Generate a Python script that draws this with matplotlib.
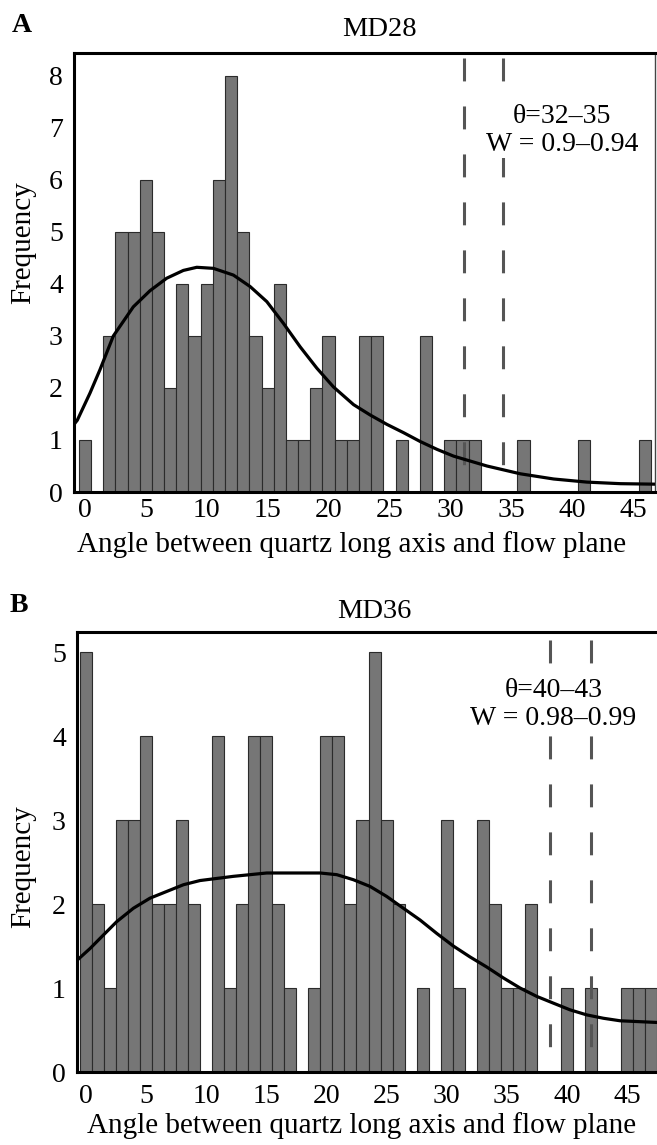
import numpy as np
import matplotlib.pyplot as plt

plt.rcParams['font.family'] = ['Liberation Serif', 'DejaVu Serif']

# histogram counts, one bar per degree (bins 0..46 / 0..47)
md28_counts = [1, 0, 3, 5, 5, 6, 5, 2, 4, 3, 4, 6, 8, 5, 3, 2, 4, 1, 1, 2,
               3, 1, 1, 3, 3, 0, 1, 0, 3, 0, 1, 1, 1, 0, 0, 0, 1, 0, 0, 0,
               0, 1, 0, 0, 0, 0, 1]
md36_counts = [5, 2, 1, 3, 3, 4, 2, 2, 3, 2, 0, 4, 1, 2, 4, 4, 2, 1, 0, 1,
               4, 4, 2, 3, 5, 3, 2, 0, 1, 0, 3, 1, 0, 3, 2, 1, 1, 2, 0, 0,
               1, 0, 1, 0, 0, 1, 1, 1]

# fitted density curves
md28_curve_x = [-0.9, -0.63, 0.41, 1.23, 2.33, 3.97, 5.34, 6.71, 8.08, 9.18,
                10.54, 12.19, 13.56, 14.93, 16.3, 17.67, 19.04, 20.4, 22.05,
                23.42, 24.79, 26.16, 27.53, 28.9, 30.26, 33.0, 35.74, 38.48,
                41.22, 43.96, 46.97]
md28_curve_y = [1.3, 1.38, 1.9, 2.35, 3.0, 3.56, 3.87, 4.11, 4.26, 4.32,
                4.30, 4.17, 3.95, 3.66, 3.24, 2.79, 2.38, 2.02, 1.68,
                1.48, 1.30, 1.14, 0.97, 0.82, 0.69, 0.50, 0.35, 0.25,
                0.19, 0.16, 0.15]
md36_curve_x = [-0.75, 0.33, 1.16, 2.55, 3.94, 5.32, 6.71, 8.1, 9.48, 12.25,
                15.03, 17.8, 19.47, 20.86, 22.24, 23.63, 25.02, 26.4, 27.79,
                29.18, 30.56, 31.95, 33.34, 34.72, 36.11, 37.5, 38.88, 40.27,
                41.66, 43.04, 44.43, 47.5]
md36_curve_y = [1.33, 1.47, 1.59, 1.79, 1.95, 2.07, 2.15, 2.23, 2.28, 2.33,
                2.37, 2.37, 2.37, 2.35, 2.29, 2.21, 2.09, 1.95, 1.81,
                1.65, 1.50, 1.37, 1.25, 1.12, 1.00, 0.90, 0.82, 0.74,
                0.68, 0.64, 0.61, 0.59]

md28_theta = [31.1, 34.3]
md36_theta = [38.6, 42.0]
md28_note = 'θ=32–35\nW = 0.9–0.94'
md36_note = 'θ=40–43\nW = 0.98–0.99'
x_ticks = [0, 5, 10, 15, 20, 25, 30, 35, 40, 45]
xlabel = 'Angle between quartz long axis and flow plane'

W, H = 657, 1145


def px_rect(left, top, right, bottom):
    return [left / W, 1 - bottom / H, (right - left) / W, (bottom - top) / H]


def plot_panel(fig, rect, counts, curve_x, curve_y, theta, note, note_xy,
               xlim, ylim, dash_span, xpad, xlab_coords, right_spine=True):
    ax = fig.add_axes(rect)
    bins = np.arange(len(counts))
    ax.bar(bins, counts, width=1.0, color='#767676', edgecolor='#2b2b2b',
           linewidth=0.8, zorder=2)

    for x in theta:
        ax.plot([x, x], dash_span, color='#555555', lw=2.2,
                dashes=(7.5, 8.2), zorder=3)

    ax.plot(curve_x, curve_y, color='black', lw=2.3, zorder=4)

    ax.text(note_xy[0], note_xy[1], note, ha='center', va='center',
            fontsize=20, linespacing=1.15, zorder=5,
            bbox=dict(facecolor='white', edgecolor='none', pad=1))

    ax.set_xlim(*xlim)
    ax.set_ylim(*ylim)
    ax.set_xticks(x_ticks)
    ax.set_yticks(range(int(ylim[1]) + 1))
    ax.tick_params(length=0, labelsize=20)
    ax.tick_params(axis='y', pad=8)
    ax.tick_params(axis='x', pad=xpad)

    for side in ['left', 'top', 'bottom']:
        ax.spines[side].set_linewidth(2.2)
        ax.spines[side].set_color('black')
    if right_spine:
        ax.spines['right'].set_linewidth(1.0)
        ax.spines['right'].set_color('#444444')
    else:
        ax.spines['right'].set_visible(False)

    ax.set_xlabel(xlabel, fontsize=21)
    ax.xaxis.set_label_coords(*xlab_coords)
    return ax


fig = plt.figure(figsize=(W / 100, H / 100), dpi=100)

plot_panel(fig, px_rect(74, 53, 655, 492), md28_counts, md28_curve_x, md28_curve_y,
           md28_theta, md28_note, (39.2, 6.95),
           (-0.9, 46.8), (0, 8.44), [8.35, 0.38], 4.5, (0.478, -0.09))

plot_panel(fig, px_rect(77, 632, 657, 1072), md36_counts, md36_curve_x, md36_curve_y,
           md36_theta, md36_note, (38.9, 4.38),
           (-0.75, 47.5), (0, 5.24), [5.14, 0.24], 8.5, (0.49, -0.09),
           right_spine=False)

fig.text(23 / W, 1 - 243 / H, 'Frequency', fontsize=21, rotation=90,
         ha='center', va='center')
fig.text(23 / W, 1 - 867 / H, 'Frequency', fontsize=21, rotation=90,
         ha='center', va='center')
fig.text(22 / W, 1 - 25 / H, 'A', fontsize=20, fontweight='bold', ha='center', va='center')
fig.text(19 / W, 1 - 605 / H, 'B', fontsize=20, fontweight='bold', ha='center', va='center')
fig.text(379 / W, 1 - 30 / H, 'MD28', fontsize=20.5, ha='center', va='center')
fig.text(374 / W, 1 - 612 / H, 'MD36', fontsize=20.5, ha='center', va='center')

fig.savefig('out.png', dpi=100)
plt.close()
